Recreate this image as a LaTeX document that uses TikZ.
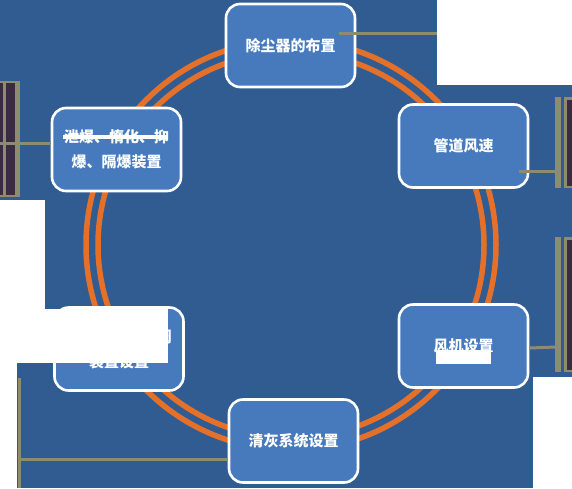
\documentclass[tikz,border=0pt]{standalone}
\usepackage{fontspec}
\newfontfamily\cjk{Noto Sans CJK SC}
\definecolor{bgblue}{HTML}{305C91}
\definecolor{nodeblue}{HTML}{467ABC}
\definecolor{ringorange}{HTML}{E5702A}
\definecolor{olivegray}{HTML}{8E8C70}
\definecolor{barpurple}{HTML}{3A2A42}
\tikzset{
  box/.style={rectangle, rounded corners=14pt, draw=white, line width=2.6pt,
    fill=nodeblue, minimum width=129pt, minimum height=83pt, inner sep=0pt,
    text=white, align=center, font=\cjk\bfseries\fontsize{15}{25}\selectfont},
  ring/.style={draw=ringorange, line width=5.5pt},
  conn/.style={draw=olivegray, line width=3pt},
  cover/.style={fill=white}
}
\begin{document}
\begin{tikzpicture}[x=1pt,y=-1pt]
\useasboundingbox (0,0) rectangle (572,488);
\fill[bgblue] (0,0) rectangle (572,488);
% ring
\coordinate (rc) at (291,245);
\draw[ring] (rc) circle[radius=193];
\draw[ring] (rc) circle[radius=205];
% bars right
\fill[olivegray] (555,97) rectangle (561,188);
\fill[olivegray] (564,97) rectangle (572,188);
\fill[barpurple] (567,99.5) rectangle (572,185.5);
\fill[olivegray] (555,237) rectangle (561,372);
\fill[olivegray] (564,237) rectangle (572,372);
\fill[barpurple] (567,239.5) rectangle (572,369.5);
% bar left
\fill[olivegray] (0,81) rectangle (20,197);
\fill[barpurple] (0,83) rectangle (3,195);
\fill[barpurple] (6,83) rectangle (14.5,195);
% nodes
\node[box] (n1) at (290.5,45.5) {除尘器的布置};
\node[box] (n2) at (463.5,146) {管道风速};
\node[box] (n3) at (463.5,346) {风机设置};
\node[box] (n4) at (293.5,441) {清灰系统设置};
\node[box] (n5) at (119,349) {卸灰阀及锁气阀\\装置设置};
\node[box] (n6) at (116.5,149.5) {泄爆、惰化、抑\\爆、隔爆装置};
% connector free ends
\coordinate (e1) at (437,33);
\coordinate (e2) at (556,171);
\coordinate (e3) at (556,347);
\coordinate (e6) at (0,143);
\coordinate (e4) at (19,459);
\coordinate (e4top) at (19,378);
\coordinate (e4bot) at (19,488);
\draw[conn] ([xshift=-17pt,yshift=12.5pt]n1.east) -- (e1);
\draw[conn] ([xshift=-10pt,yshift=-25pt]n2.east) -- (e2);
\draw[conn] ([yshift=-2pt]n3.east) -- (e3);
\draw[conn] ([yshift=6.5pt]n6.west) -- (e6);
\draw[conn] ([yshift=-18pt]n4.west) -- (e4);
\draw[conn] (e4top) -- (e4bot);
% strike line in n6
\draw[white, line width=4pt] (63,137) -- (168,137);
% white cover patches
\fill[cover] (437,0) rectangle (572,85);
\fill[cover] (0,200) rectangle (45,309);
\fill[cover] (0,309) rectangle (168,363);
\fill[cover] (0,363) rectangle (17,488);
\fill[cover] (533,377) rectangle (572,488);
\fill[cover] (436,350) rectangle (491,364);
\end{tikzpicture}
\end{document}
